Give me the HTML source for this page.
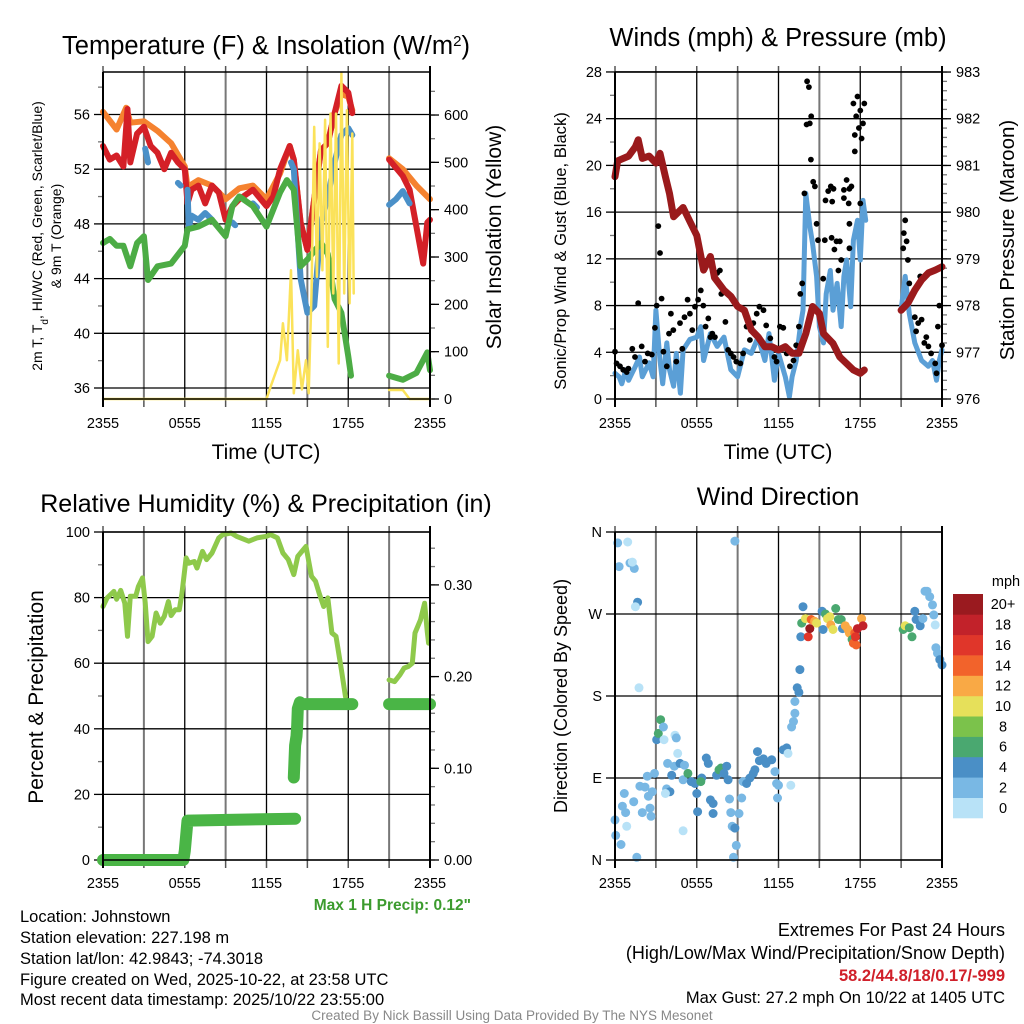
<!DOCTYPE html>
<html><head><meta charset="utf-8"><style>
html,body{margin:0;padding:0;background:#fff;}
svg{display:block;font-family:"Liberation Sans",sans-serif;}
</style></head><body>
<svg id="chart" width="1024" height="1024" viewBox="0 0 1024 1024" xmlns="http://www.w3.org/2000/svg">
<rect x="0" y="0" width="1024" height="1024" fill="#fff"/>
<g id="p1"></g>
<g id="p2"></g>
<g id="p3"></g>
<g id="p4"></g>
<text x="266" y="54" font-size="25.5" text-anchor="middle">Temperature (F) &amp; Insolation (W/m<tspan baseline-shift="super" font-size="15">2</tspan>)</text>
<text x="778" y="46" font-size="25.5" text-anchor="middle">Winds (mph) &amp; Pressure (mb)</text>
<text x="266" y="512" font-size="25" text-anchor="middle">Relative Humidity (%) &amp; Precipitation (in)</text>
<text x="778" y="505" font-size="25" text-anchor="middle">Wind Direction</text>
<text x="266" y="459" font-size="21" text-anchor="middle">Time (UTC)</text>
<text x="778" y="459" font-size="21" text-anchor="middle">Time (UTC)</text>
<text transform="translate(42,236) rotate(-90)" font-size="14" text-anchor="middle">2m T, T<tspan baseline-shift="sub" font-size="10">d</tspan>, HI/WC (Red, Green, Scarlet/Blue)</text>
<text transform="translate(61,236) rotate(-90)" font-size="14" text-anchor="middle">&amp; 9m T (Orange)</text>
<text transform="translate(501,237) rotate(-90)" font-size="21" text-anchor="middle">Solar Insolation (Yellow)</text>
<text transform="translate(566,251) rotate(-90)" font-size="16.6" text-anchor="middle">Sonic/Prop Wind &amp; Gust (Blue, Black)</text>
<text transform="translate(1014,240) rotate(-90)" font-size="20.5" text-anchor="middle">Station Pressure (Maroon)</text>
<text transform="translate(43,697) rotate(-90)" font-size="21" text-anchor="middle">Percent &amp; Precipitation</text>
<text transform="translate(567,696) rotate(-90)" font-size="18" text-anchor="middle">Direction (Colored By Speed)</text>
<text x="471" y="910" font-size="15.5" font-weight="bold" fill="#3c9b2e" text-anchor="end">Max 1 H Precip: 0.12"</text>
<g font-size="16.5">
<text x="20" y="922">Location: Johnstown</text>
<text x="20" y="943">Station elevation: 227.198 m</text>
<text x="20" y="964">Station lat/lon: 42.9843; -74.3018</text>
<text x="20" y="985">Figure created on Wed, 2025-10-22, at 23:58 UTC</text>
<text x="20" y="1005">Most recent data timestamp: 2025/10/22 23:55:00</text>
</g>
<g font-size="18" text-anchor="end">
<text x="1005" y="936">Extremes For Past 24 Hours</text>
<text x="1005" y="959">(High/Low/Max Wind/Precipitation/Snow Depth)</text>
<text x="1005" y="981" font-size="16.5" font-weight="bold" fill="#d0202a">58.2/44.8/18/0.17/-999</text>
<text x="1005" y="1003" font-size="16.5">Max Gust: 27.2 mph On 10/22 at 1405 UTC</text>
</g>
<text x="512" y="1020" font-size="13.5" fill="#888" text-anchor="middle">Created By Nick Bassill Using Data Provided By The NYS Mesonet</text>
</svg>
<script>
// ---------- data ----------
const xTickLabels = ["2355","0555","1155","1755","2355"];
const tempTicks = [36,40,44,48,52,56];
const solarTicks = [0,100,200,300,400,500,600];
const windTicks = [0,4,8,12,16,20,24,28];
const presTicks = [976,977,978,979,980,981,982,983];
const rhTicks = [0,20,40,60,80,100];
const precipTicks = ["0.00","0.10","0.20","0.30"];
const dirLabels = ["N","E","S","W","N"];
const speedBins = ["0","2","4","6","8","10","12","14","16","18","20+"];

const orangeT = [0,1,1.7,2,3,4,5,6,6.2,7,8,9,10,11,12,13,13.7,14,14.5,15,15.5,16,16.5,17,17.5,18,18.3,null,21,22,23,24];
const orangeV = [56.2,54.9,56.5,55.4,55.5,54.8,53.9,52.2,50.7,51.2,50.8,49.8,50.6,50.8,49.8,51.7,53.7,52.7,48.1,46.1,49.8,53.4,53.9,56.1,57.5,57.3,56.3,null,52.8,52.0,50.8,49.8];
const redT = [0,0.5,1,1.5,1.8,2,2.5,3,3.5,4,4.5,5,5.5,6,6.2,6.5,7,7.5,8,8.5,9,9.5,10,11,12,12.5,13,13.7,14,14.5,15,15.5,16,16.5,17,17.5,18,18.3,null,21,22,22.5,23,23.5,23.8,24];
const redV = [53.7,52.7,53.0,52.2,56.4,52.5,54.6,55.1,53.7,53.2,52.0,53.2,52.5,52.0,49.5,50.5,50.8,49.5,50.8,50.3,48.3,49.3,49.8,50.5,49.3,50.0,52.0,53.7,52.7,48.1,46.1,49.8,53.4,53.9,56.1,58.1,57.6,56.1,null,52.7,51.5,50.5,47.8,45.1,48.1,48.3];
const blueT = [3.1,3.3,null,5.5,5.7,null,6.2,6.3,6.5,7,7.5,8,null,9.5,9.7,null,11,11.3,null,12,12.2,null,13.8,14,14.5,15,15.5,16,16.5,17,17.5,18,18.3,null,21,21.5,22,22.5];
const blueV = [53.5,52.5,null,51.0,50.8,null,50.5,47.8,48.6,48.3,48.8,48.3,null,48.1,47.9,null,49.5,49.2,null,48.1,48.3,null,52.5,52.0,44.0,41.5,42.0,48.0,50.0,52.5,54.5,55.0,54.5,null,49.4,49.8,50.4,49.5];
const greenT = [0,0.5,1,1.5,2,2.5,3,3.3,4,5,6,6.2,7,8,9,9.5,10,11,12,13,13.5,14,14.5,15,16,16.5,17,17.5,18,18.2,null,21,22,23,23.8,24];
const greenV = [46.6,46.9,46.4,46.4,44.9,46.6,47.1,43.9,44.9,45.1,46.4,47.6,47.8,48.3,47.1,49.3,50.0,49.3,47.8,50.3,51.2,50.5,44.9,45.4,46.6,45.8,42.5,41.5,38.3,36.9,null,36.9,36.6,37.1,38.6,37.3];
const solarT = [0,12,12.3,13,13.2,13.5,13.8,14,14.3,14.6,14.9,15.1,15.3,15.5,15.7,15.9,16.1,16.3,16.5,16.7,16.9,17.1,17.3,17.5,17.7,17.9,18.1,18.3,18.4,null,21,22,22.5,24];
const solarV = [0,0,26,82,160,82,272,12,103,20,82,12,223,575,258,540,272,590,110,603,223,603,75,688,223,610,202,561,223,null,19,19,0,0];

const presT = [0,0.2,1,1.5,1.7,2,2.5,3,3.3,3.7,4,4.3,5,5.5,6,6.5,7,7.3,8,8.5,9,9.5,10,10.5,11,11.5,12,12.5,13,13.5,14,14.5,15,15.3,16,16.5,17,17.5,18,18.3,null,21,21.5,22,22.5,23,23.5,24];
const presV = [980.76,981.1,981.2,981.4,981.55,981.15,981.2,981.05,981.26,980.76,980.4,979.9,980.1,979.8,979.5,978.76,979.05,978.6,978.33,978.2,977.98,977.9,977.48,977.33,977.12,977.12,977.05,977.12,976.98,976.98,977.4,977.98,977.83,977.4,977.19,976.9,976.76,976.62,976.55,976.62,null,977.9,978.05,978.33,978.55,978.7,978.76,978.83];
const windT = [0,0.3,0.5,0.8,1,1.5,1.8,2,2.5,2.8,3,3.3,3.5,3.8,4,4.3,4.5,4.8,5,5.5,6,6.3,6.5,7,7.5,8,8.5,9,9.5,10,10.5,11,11.3,11.7,12,12.5,12.8,13,13.3,13.6,13.8,14,14.3,14.5,14.8,15,15.3,15.5,15.8,16,16.3,16.6,16.8,17,17.3,17.5,17.8,18,18.2,18.4,null,21,21.3,21.6,22,22.5,23,23.3,23.6,23.8,24];
const windV = [2.2,1.9,1.3,2.5,1.6,2.8,3.6,1.9,3.1,1.9,7.6,3.3,1.3,4.8,2.5,1.1,3.9,0.5,4.2,5.1,5.3,6.2,3.3,5.6,4.5,5.3,2.5,1.9,4.2,3.9,5.3,3.3,5.6,1.6,3.9,1.9,0.2,1.9,3.3,6.2,7.6,17.6,14.8,13.3,10.5,6.2,4.8,9.0,11.0,7.6,9.9,6.2,10.5,11.9,7.9,13.6,15.3,11.9,17.0,15.3,null,7.6,10.5,7.3,4.8,3.3,2.8,3.3,1.6,3.3,4.2];
const gustT = [0,0.12,0.37,0.6,0.86,0.98,1.27,1.47,1.7,1.96,2.2,2.4,2.7,2.93,3.06,3.18,3.3,3.42,3.55,3.8,3.96,4.1,4.28,4.5,4.77,4.94,5.1,5.33,5.5,5.67,5.87,6.1,6.3,6.48,6.65,6.85,7.0,7.14,7.33,7.5,7.7,7.8,8.1,8.3,8.5,8.7,8.9,9.2,9.4,9.66,9.9,10.15,10.4,10.6,10.9,11.1,11.4,11.7,11.86,12.1,12.35,12.6,12.84,13.1,13.3,13.5,13.6,13.74,13.9,14.06,14.1,14.23,14.3,14.4,14.38,14.55,14.67,14.8,14.9,15.28,15.45,15.65,15.84,15.94,16.04,15.4,15.9,16.26,16.5,16.1,16.6,16.4,16.8,17.0,17.2,17.35,16.8,17.15,17.2,17.5,17.8,18.0,17.7,17.9,17.6,18.1,18.3,18.2,17.6,17.2,18.0,21.3,21.2,21.4,21.15,21.5,21.6,22.4,22.0,22.25,22.5,22.1,22.7,23.0,22.85,23.2,23.5,23.6,23.7,23.8,24];
const gustV = [4.05,3.05,2.8,2.5,2.3,2.6,4.3,3.6,8.2,4.5,3.2,3.9,3.8,6.1,8.0,14.8,12.5,8.6,4.05,2.8,5.6,7.3,5.9,3.2,6.5,4.3,7.0,8.5,7.3,5.9,7.9,8.5,9.3,8.0,6.2,6.9,5.3,5.6,5.3,10.8,11.0,9.0,6.6,4.2,3.9,3.6,3.2,3.05,3.9,6.2,5.05,6.5,7.3,7.9,7.6,6.3,5.2,3.6,3.2,6.2,6.1,3.9,2.8,3.3,4.6,6.2,9.0,9.9,17.6,23.5,27.2,26.7,23.6,24.2,20.5,18.6,18.2,15.0,13.6,10.3,17.0,17.8,18.2,16.9,18.0,13.6,13.8,13.5,13.5,12.8,11.9,11.0,17.2,18.75,18.0,18.2,17.9,16.75,15.0,25.3,25.9,24.7,24.2,23.2,22.6,22.3,25.3,23.6,21.2,12.9,16.75,15.3,14.2,13.5,12.9,11.9,9.9,10.5,7.0,6.5,6.8,5.8,4.8,4.5,5.3,3.9,3.05,2.2,6.2,8.0,4.6];

const rhT = [0,0.3,0.8,1,1.3,1.6,1.8,2,2.4,2.6,2.9,3.1,3.3,3.6,3.9,4.2,4.5,4.8,5.0,5.3,5.6,5.8,6.1,6.3,6.7,6.9,7.3,7.6,8,8.5,8.8,9.4,9.8,10.7,11.3,12,12.3,12.8,13.2,13.6,14,14.3,14.6,14.9,15.3,15.6,15.9,16.2,16.5,16.8,17.1,17.5,17.8,null,21,21.4,21.8,22.1,22.4,22.7,22.9,23.3,23.6,23.8,23.9];
const rhV = [77.3,79.9,81.9,79.5,82.2,78.3,68.2,80.4,80.4,83.4,86,78.5,66.6,68.2,75.3,72.2,74.3,78.8,74.5,76.3,76.3,81.4,92.1,90.5,91.0,89,94.1,91.6,93.6,98.2,99.2,99.7,98.7,97.2,98.2,98.7,99.2,98.2,93.6,91.6,87,92.6,94.1,95.6,86.5,85,80.9,77.3,79.9,69.2,68.2,58,49.8,null,54.9,54.4,56.5,58.5,59,60,69.2,73.2,78.3,69.5,66.1];
const precipT = [0,5.9,6.0,6.2,14.1,null,14.0,14.1,14.2,14.25,14.3,14.45,14.5,18.3,null,21,24];
const precipV = [0,0,0.010,0.043,0.045,null,0.09,0.125,0.135,0.147,0.165,0.172,0.17,0.17,null,0.17,0.17];

const dirT = [0.2,0.93,0.3,1.1,1.42,1.27,1.66,1.5,1.76,8.8,0,0.05,0.44,0.86,0.54,0.78,0.68,1.37,1.83,2.2,2.0,2.57,2.64,2.45,2.74,2.9,2.37,1.6,3.06,3.18,3.35,3.55,3.6,4.4,4.5,4.6,3.86,4.35,4.77,5.1,4.16,3.79,4.03,3.7,5.0,5.35,5.6,5.87,6.36,6.3,6.0,6.06,5.0,6.7,6.85,7.0,7.2,7.2,7.46,7.63,7.78,8.2,8.0,8.3,8.4,8.5,8.6,8.8,8.9,8.7,9.1,9.3,9.4,9.66,9.9,10.15,10.27,10.46,10.6,10.9,11.1,11.5,11.74,11.86,12.0,11.93,12.35,12.6,12.7,12.9,12.96,13.2,13.1,13.2,13.37,13.5,13.57,13.64,13.7,13.8,13.98,14.18,14.3,14.4,14.65,14.8,15.2,15.27,15.45,15.6,15.77,15.84,16.0,16.2,16.4,16.6,16.7,16.9,17.1,17.2,17.4,17.5,17.7,17.6,17.8,18.1,18.2,17.65,21.15,21.3,21.6,21.8,22.0,22.1,22.4,22.6,22.75,22.9,23.1,23.3,23.4,23.5,23.55,23.67,23.84,24];
const dirV = [348,349,322,326,320,327,283,278,189,350,44,27,17,37,59,52,73,64,81,80,52,57,48,70,75,95,92,3,132,139,154,146,132,137,134,117,106,103,106,104,93,78,75,73,88,95,86,84,90,86,73,53,32,112,106,66,62,51,93,99,101,103,95,88,67,52,37,35,16,3,51,68,86,84,90,95,99,119,109,111,106,110,97,84,82,68,121,123,117,82,146,161,152,174,189,184,209,245,260,278,265,245,254,264,262,260,273,253,270,265,267,258,253,276,264,264,254,257,253,249,242,238,236,249,254,265,257,245,253,257,255,245,273,264,257,265,295,295,289,280,269,258,233,227,220,214];
const dirSpd = [2,1,2,2,2,1,4,1,1,3,3,3,3,1,2,2,2,2,2,2,2,2,2,2,2,2,2,2,4,7,6,3,1,1,3,1,2,2,4,3,4,2,4,1,2,6,4,4,4,6,4,4,1,4,4,4,4,4,4,6,6,4,4,4,2,2,2,4,2,2,2,2,2,4,4,4,4,4,4,4,4,4,2,2,2,2,4,4,1,1,2,2,2,2,4,4,4,4,6,4,10,16,20,15,12,10,4,4,7,10,11,13,10,6,7,7,4,12,13,12,7,15,14,15,18,12,18,16,6,10,7,6,4,4,4,2,2,2,2,2,2,1,2,2,4,4];

// ---------- helpers ----------
const NS = "http://www.w3.org/2000/svg";
function mk(parent, tag, attrs, txt) {
  const e = document.createElementNS(NS, tag);
  for (const k in attrs) e.setAttribute(k, attrs[k]);
  if (txt !== undefined) e.textContent = txt;
  parent.appendChild(e);
  return e;
}
function pathFrom(ts, vs, xf, yf) {
  let d = "", pen = false;
  for (let i = 0; i < ts.length; i++) {
    if (ts[i] === null || vs[i] === null) { pen = false; continue; }
    d += (pen ? "L" : "M") + xf(ts[i]).toFixed(1) + "," + yf(vs[i]).toFixed(1);
    pen = true;
  }
  return d;
}
function frame(g, L, R, T, B, labOff) {
  const xf = t => L + t * (R - L) / 24;
  for (let h = 0; h <= 24; h += 3) {
    const x = xf(h);
    const major = h % 6 === 0;
    const ln = mk(g, "line", {x1: x, y1: T, x2: x, y2: B, stroke: major ? "#000" : "#777", "stroke-width": major ? 1.3 : 2});
    
    
    mk(g, "line", {x1: x, y1: T, x2: x, y2: T - 6, stroke: "#555", "stroke-width": 1.5});
    mk(g, "line", {x1: x, y1: B, x2: x, y2: B + 8, stroke: "#555", "stroke-width": 1.5});
    if (major) {
      const tl = mk(g, "text", {x: x, y: B + labOff, "font-size": 14.5, "text-anchor": "middle"}, xTickLabels[h / 6]);
      
      
    }
  }
  return xf;
}
function leftAxis(g, L, R, ticks, yf, minor, labels) {
  ticks.forEach((v, i) => {
    const y = yf(v);
    const gl = mk(g, "line", {x1: L, y1: y, x2: R, y2: y, stroke: "#000", "stroke-width": 1.3});
    
    
    mk(g, "line", {x1: L, y1: y, x2: L - 9, y2: y, stroke: "#000", "stroke-width": 1.3});
    const t = mk(g, "text", {x: L - 13, y: y + 5, "font-size": 14.5, "text-anchor": "end"}, labels ? labels[i] : v);
    
    
  });
  minor.forEach(v => mk(g, "line", {x1: L, y1: yf(v), x2: L - 5, y2: yf(v), stroke: "#777", "stroke-width": 1.3}));
}
function rightAxis(g, R, ticks, yf, labels, minorStep, lo, hi) {
  for (let v = lo; v <= hi + 1e-9; v += minorStep) {
    mk(g, "line", {x1: R, y1: yf(v), x2: R + 5, y2: yf(v), stroke: "#777", "stroke-width": 1.3});
  }
  ticks.forEach((v, i) => {
    const y = yf(v);
    mk(g, "line", {x1: R, y1: y, x2: R + 9, y2: y, stroke: "#000", "stroke-width": 1.3});
    const t = mk(g, "text", {x: R + 14, y: y + 5, "font-size": 14.5}, labels[i]);
    
    
  });
}
function box(g, L, R, T, B) {
  mk(g, "line", {x1: L, y1: T, x2: L, y2: B + 8, stroke: "#000", "stroke-width": 2});
  mk(g, "line", {x1: R, y1: T - 6, x2: R, y2: B + 8, stroke: "#000", "stroke-width": 2});
  mk(g, "line", {x1: L, y1: B, x2: R, y2: B, stroke: "#000", "stroke-width": 1.5});
  mk(g, "line", {x1: L, y1: T, x2: R, y2: T, stroke: "#000", "stroke-width": 1.5});
}
function line(g, d, color, w, name) {
  const p = mk(g, "path", {d: d, fill: "none", stroke: color, "stroke-width": w, "stroke-linejoin": "round", "stroke-linecap": "round"});
  
  
}

// ---------- panel 1 ----------
(function () {
  const g = document.getElementById("p1");
  const L = 103, R = 430, T = 72, B = 399;
  const xf = frame(g, L, R, T, B, 29);
  const yT = v => 388 - (v - 36) * 13.675;
  const yS = v => 399 - v * 0.4733;
  leftAxis(g, L, R, tempTicks, yT, [38, 42, 46, 50, 54, 58], null);
  rightAxis(g, R, solarTicks, yS, solarTicks, 50, 0, 650);
  line(g, pathFrom(orangeT, orangeV, xf, yT), "#f5822f", 6, "orange-9m-temp-line");
  line(g, pathFrom(redT, redV, xf, yT), "#d42027", 6, "red-2m-temp-line");
  line(g, pathFrom(blueT, blueV, xf, yT), "#4a90c8", 6, "blue-wind-chill-line");
  line(g, pathFrom(greenT, greenV, xf, yT), "#4cac45", 6, "green-dewpoint-line");
  line(g, pathFrom(solarT, solarV, xf, yS), "#fbe25a", 2.5, "yellow-solar-line");
  box(g, L, R, T, B);
})();

// ---------- panel 2 ----------
(function () {
  const g = document.getElementById("p2");
  const L = 615, R = 942, T = 72, B = 399;
  const xf = frame(g, L, R, T, B, 29);
  const yW = v => 399 - v * 11.68;
  const yP = v => 399 - (v - 976) * 46.71;
  leftAxis(g, L, R, windTicks, yW, [2, 6, 10, 14, 18, 22, 26], null);
  rightAxis(g, R, presTicks, yP, presTicks, 0.2, 976, 983);
  line(g, pathFrom(windT, windV, xf, yW), "#5b9fd6", 5, "sustained-wind-line");
  for (let i = 0; i < gustT.length; i++) {
    const c = mk(g, "circle", {cx: xf(gustT[i]).toFixed(1), cy: yW(gustV[i]).toFixed(1), r: 2.9, fill: "#000"});
    
    
  }
  line(g, pathFrom(presT, presV, xf, yP), "#9a1a1c", 7, "pressure-line");
  box(g, L, R, T, B);
})();

// ---------- panel 3 ----------
(function () {
  const g = document.getElementById("p3");
  const L = 103, R = 430, T = 532, B = 860;
  const xf = frame(g, L, R, T, B, 28);
  const yR = v => 860 - v * 3.28;
  const yPr = v => 860 - v * 917;
  leftAxis(g, L, R, rhTicks, yR, [10, 30, 50, 70, 90], null);
  rightAxis(g, R, precipTicks.map(Number), yPr, precipTicks, 0.02, 0, 0.34);
  line(g, pathFrom(rhT, rhV, xf, yR), "#8ec94b", 5, "relative-humidity-line");
  line(g, pathFrom(precipT, precipV, xf, yPr), "#4ab546", 12, "precipitation-line");
  box(g, L, R, T, B);
})();

// ---------- panel 4 ----------
(function () {
  const g = document.getElementById("p4");
  const L = 615, R = 942, T = 532, B = 860;
  const xf = frame(g, L, R, T, B, 28);
  const yD = v => 860 - v * (328 / 360);
  leftAxis(g, L, R, [0, 90, 180, 270, 360], yD, [], dirLabels);
  const cols = ["#b8e2f7","#79b8e4","#4a8fc6","#4aa870","#7bc24b","#e6e05a","#f9a945","#f2632b","#e0362a","#c2222a","#9a1a1f"];
  for (let i = 0; i < dirT.length; i++) {
    const bin = Math.min(10, Math.floor(dirSpd[i] / 2));
    const c = mk(g, "circle", {cx: xf(dirT[i]).toFixed(1), cy: yD(dirV[i]).toFixed(1), r: 4.5, fill: cols[bin]});
    
    
  }
  box(g, L, R, T, B);
  const cb = mk(g, "g", {});
  
  
  const bh = (818 - 594) / speedBins.length;
  for (let i = 0; i < speedBins.length; i++) {
    const y = 818 - (i + 1) * bh;
    mk(cb, "rect", {x: 953, y: y.toFixed(1), width: 30, height: (bh + 0.3).toFixed(1), fill: cols[i]});
    const t = mk(cb, "text", {x: 1003, y: (y + bh / 2 + 5).toFixed(1), "font-size": 14.5, "text-anchor": "middle"}, speedBins[i]);
    
    
  }
  const u = mk(cb, "text", {x: 1006, y: 586, "font-size": 14.5, "text-anchor": "middle"}, "mph");
  
  
})();
</script>
</body></html>
